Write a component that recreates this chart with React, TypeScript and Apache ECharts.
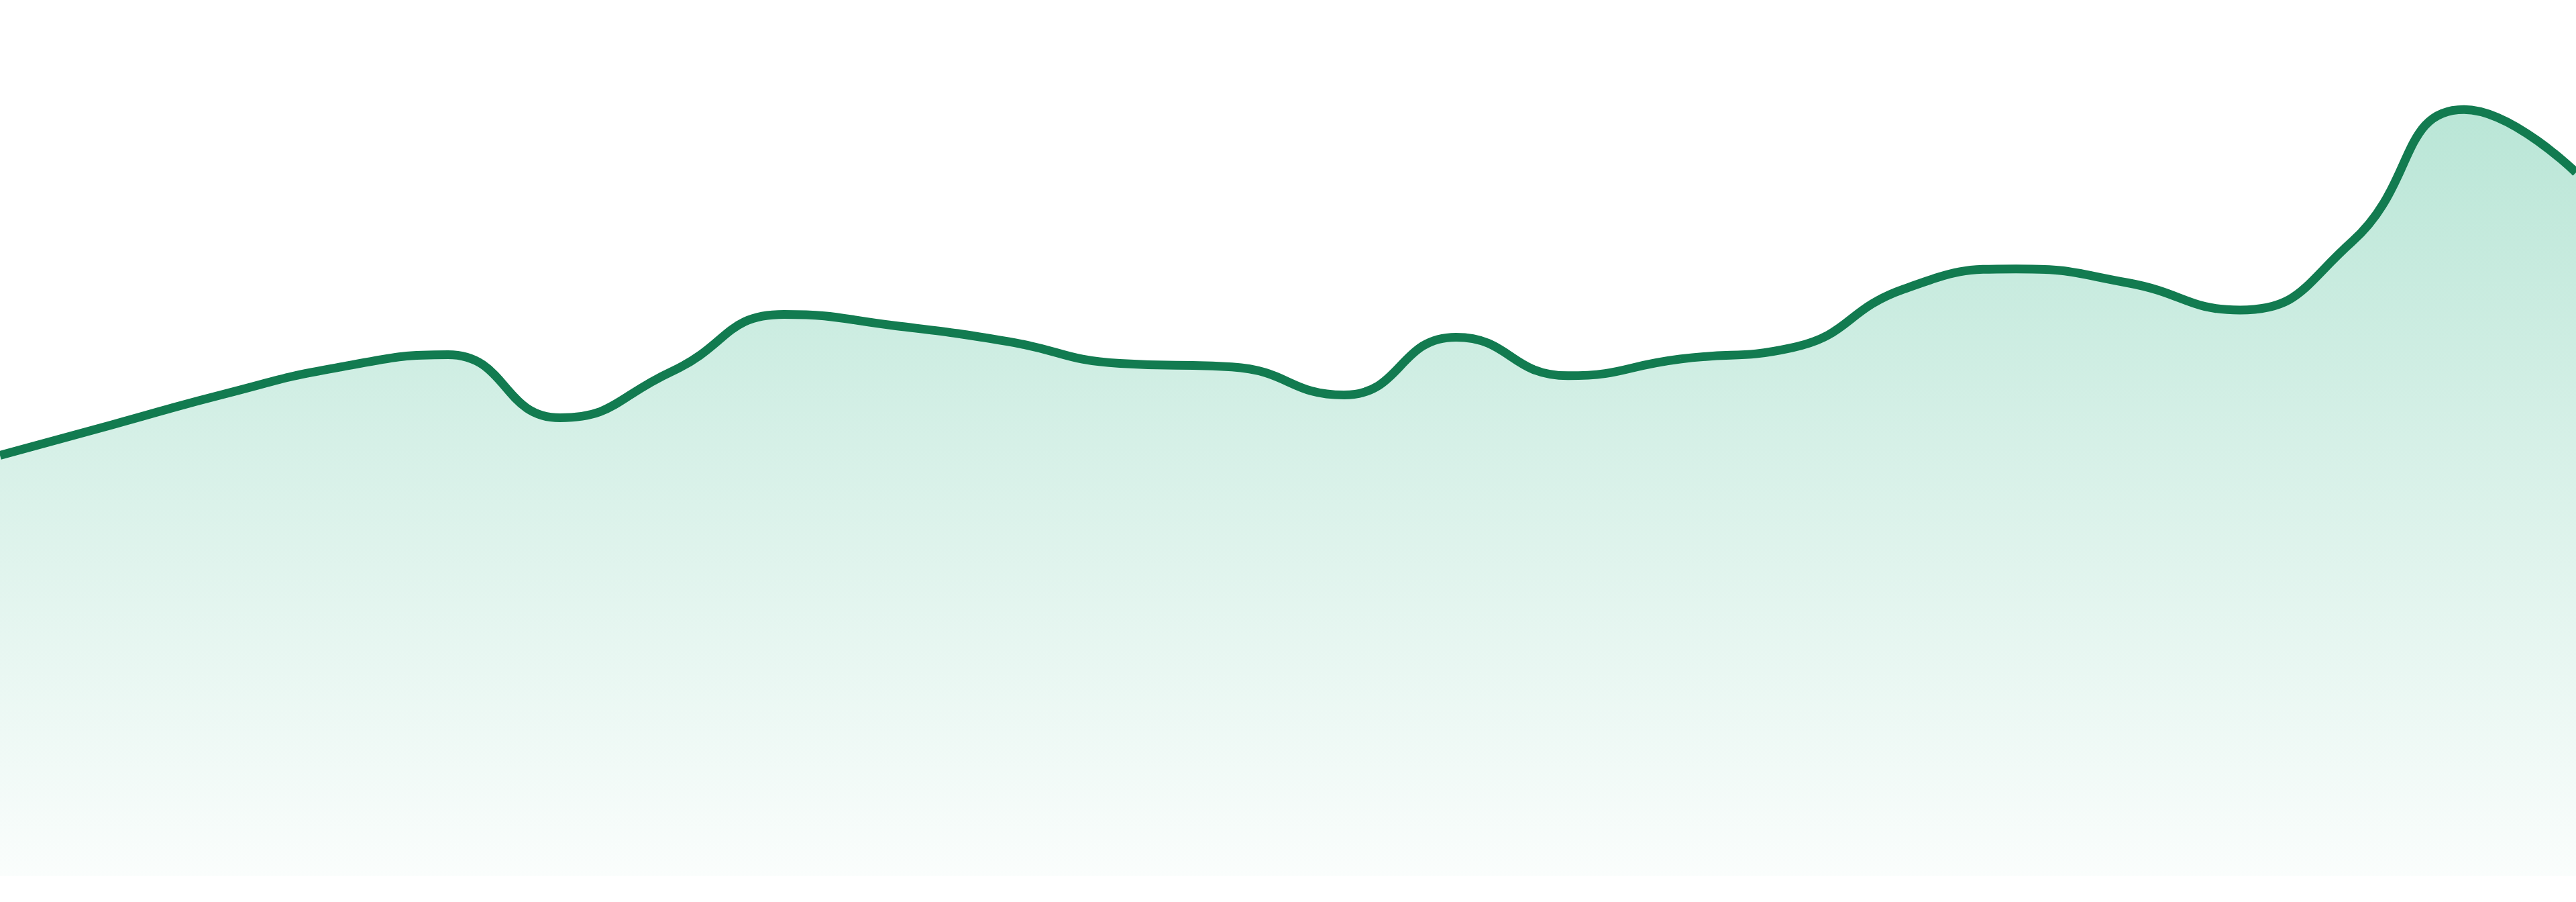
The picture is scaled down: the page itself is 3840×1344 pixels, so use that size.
import { useEffect, useRef } from 'react'
import * as echarts from 'echarts'

// 24 evenly spaced samples
const categories = [
  'P01', 'P02', 'P03', 'P04', 'P05', 'P06', 'P07', 'P08', 'P09', 'P10', 'P11', 'P12',
  'P13', 'P14', 'P15', 'P16', 'P17', 'P18', 'P19', 'P20', 'P21', 'P22', 'P23', 'P24'
]
const values = [
  48.0, 51.5, 55.0, 58.0, 59.5, 52.3, 57.6, 64.1, 62.8, 61.0, 58.5, 58.1,
  54.9, 61.5, 57.1, 59.0, 60.3, 67.0, 69.3, 67.7, 64.6, 72.4, 87.5, 80.3
]
const yMin = 0
const yMax = 100

export default function App() {
  const chartRef = useRef<HTMLDivElement | null>(null)

  useEffect(() => {
    if (!chartRef.current) return
    const chart = echarts.init(chartRef.current, undefined, { renderer: 'svg' })

    chart.setOption({
      animation: false,
      backgroundColor: '#ffffff',
      grid: { left: 0, right: 0, top: 0, bottom: 39 },
      xAxis: {
        type: 'category',
        data: categories,
        boundaryGap: false,
        show: false
      },
      yAxis: {
        type: 'value',
        min: yMin,
        max: yMax,
        show: false
      },
      series: [
        {
          type: 'line',
          data: values,
          smooth: true,
          showSymbol: false,
          lineStyle: { color: '#127b50', width: 13 },
          itemStyle: { color: '#127b50' },
          areaStyle: {
            color: new echarts.graphic.LinearGradient(0, 0, 0, 1, [
              { offset: 0, color: 'rgba(20, 170, 118, 0.42)' },
              { offset: 1, color: 'rgba(20, 170, 118, 0.03)' }
            ])
          }
        }
      ]
    })

    return () => {
      chart.dispose()
    }
  }, [])

  return (
    <div
      ref={chartRef}
      style={{ position: 'absolute', left: 0, top: 0, width: 3840, height: 1344 }}
    />
  )
}
